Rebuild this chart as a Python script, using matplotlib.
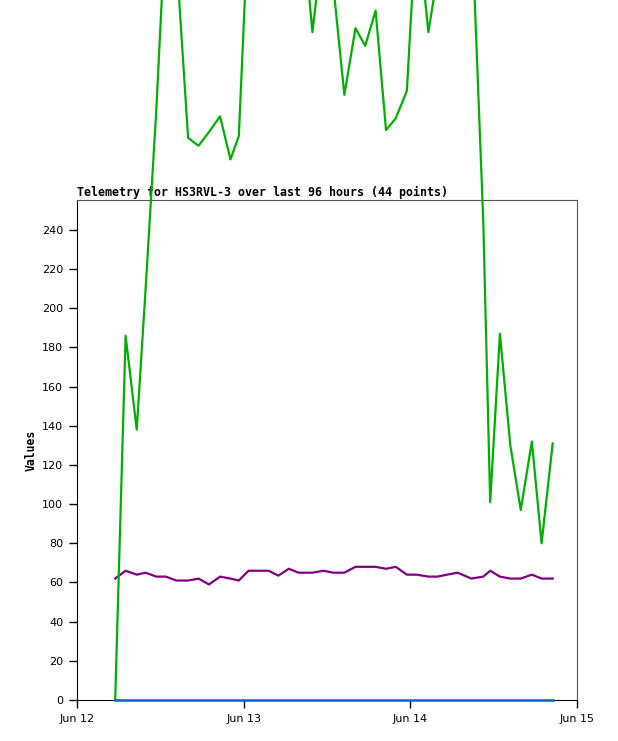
import pandas as pd
import matplotlib
matplotlib.use("Agg")
import matplotlib.pyplot as plt
import matplotlib.dates as mdates

# sample times, hours after Jun 12 00:00
hours = [5.5, 7.0, 8.6, 9.9, 11.4, 12.8, 14.3, 16.0, 17.5, 19.0,
         20.6, 22.1, 23.3, 24.7, 26.2, 27.6, 29.0, 30.5, 31.9, 32.9,
         33.9, 35.5, 36.9, 38.5, 40.1, 41.5, 43.0, 44.5, 45.9, 47.5,
         48.9, 50.6, 51.9, 53.3, 54.8, 56.8, 58.5, 59.5, 60.9, 62.4,
         63.9, 65.5, 66.9, 68.5]

green_vals = [0, 186, 138, 211, 300, 400, 380, 287, 283, 290,
              298, 276, 288, 400, 420, 410, 430, 400, 390, 380,
              341, 390, 365, 309, 343, 334, 352, 291, 297, 311,
              400, 341, 370, 400, 410, 400, 245, 101, 187, 130,
              97, 132, 80, 131]

purple_vals = [62, 66, 64, 65, 63, 63, 61, 61, 62, 59,
               63, 62, 61, 66, 66, 66, 63.5, 67, 65, 65,
               65, 66, 65, 65, 68, 68, 68, 67, 68, 64,
               64, 63, 63, 64, 65, 62, 63, 66, 63, 62,
               62, 64, 62, 62]

blue_vals = [0] * len(hours)

day_ticks = ["2024-06-12", "2024-06-13", "2024-06-14", "2024-06-15"]
y_ticks = list(range(0, 241, 20))

start = pd.Timestamp("2024-06-12")
times = [start + pd.Timedelta(hours=h) for h in hours]

fig = plt.figure(figsize=(6.18, 7.41), dpi=100)
ax = fig.add_axes([77 / 618, 1 - 700 / 741, 500 / 618, 500 / 741])

ax.plot(times, purple_vals, color="#800080", lw=1.6, zorder=4, clip_on=False)
ax.plot(times, green_vals, color="#00b000", lw=1.6, zorder=5, clip_on=False)
ax.plot(times, blue_vals, color="#0066cc", lw=1.8, zorder=6, clip_on=False)

ax.set_xlim(pd.Timestamp(day_ticks[0]), pd.Timestamp(day_ticks[-1]))
ax.set_ylim(0, 255.3)
ax.set_xticks([pd.Timestamp(d) for d in day_ticks])
ax.xaxis.set_major_formatter(mdates.DateFormatter("%b %d"))
ax.set_yticks(y_ticks)

ax.tick_params(direction="out", length=6, width=1, labelsize=8, pad=4)
for lab in ax.get_xticklabels() + ax.get_yticklabels():
    lab.set_family("DejaVu Sans")

ax.spines["top"].set_color("#555555")
ax.spines["right"].set_color("#555555")

ax.set_ylabel("Values", family="DejaVu Sans Mono", fontweight="bold", fontsize=8.3, labelpad=3)
ax.set_title("Telemetry for HS3RVL-3 over last 96 hours (44 points)", loc="left",
             family="DejaVu Sans Mono", fontweight="bold", fontsize=8.35, pad=3)

fig.savefig("out.png", dpi=100)
